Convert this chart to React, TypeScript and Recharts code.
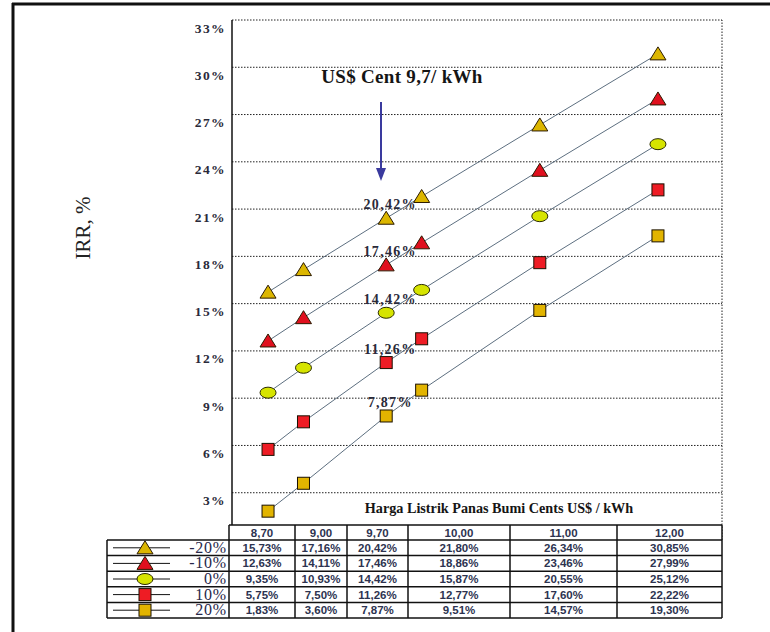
import React from 'react';
import { LineChart, Line, XAxis, YAxis, CartesianGrid, ReferenceLine, LabelList } from 'recharts';

// Data (IRR vs geothermal electricity price)
const prices = [8.7, 9.0, 9.7, 10.0, 11.0, 12.0];
const priceLabels = ['8,70', '9,00', '9,70', '10,00', '11,00', '12,00'];
const scenarioNames = ['-20%', '-10%', '0%', '10%', '20%'];
const irrMinus20 = [15.73, 17.16, 20.42, 21.8, 26.34, 30.85];
const irrMinus10 = [12.63, 14.11, 17.46, 18.86, 23.46, 27.99];
const irrBase = [9.35, 10.93, 14.42, 15.87, 20.55, 25.12];
const irrPlus10 = [5.75, 7.5, 11.26, 12.77, 17.6, 22.22];
const irrPlus20 = [1.83, 3.6, 7.87, 9.51, 14.57, 19.3];
const yTicks = [3, 6, 9, 12, 15, 18, 21, 24, 27, 30, 33];

const series = [
  { key: 'm20', values: irrMinus20, shape: 'tri', fill: '#dcb600' },
  { key: 'm10', values: irrMinus10, shape: 'tri', fill: '#e0101e' },
  { key: 'base', values: irrBase, shape: 'ell', fill: '#d6e400' },
  { key: 'p10', values: irrPlus10, shape: 'sq', fill: '#ee1c24' },
  { key: 'p20', values: irrPlus20, shape: 'sq', fill: '#e2b400' },
];

const chartData = prices.map((p, i) => {
  const row: any = { price: p };
  series.forEach((s) => { row[s.key] = s.values[i]; });
  return row;
});

const fmt = (v: number) => v.toFixed(2).replace('.', ',') + '%';

const SERIF = '"Liberation Serif", "Times New Roman", serif';
const SANS = '"Liberation Sans", Arial, sans-serif';

const Marker = ({ shape, fill, cx, cy }: any) => {
  if (shape === 'tri') {
    return <path d={`M${cx},${cy - 7} L${cx + 8},${cy + 6} L${cx - 8},${cy + 6} Z`} fill={fill} stroke="#2b1a00" strokeWidth={1} />;
  }
  if (shape === 'ell') {
    return <ellipse cx={cx} cy={cy} rx={8} ry={5.5} fill={fill} stroke="#2b2b00" strokeWidth={1} />;
  }
  return <rect x={cx - 6} y={cy - 6} width={12} height={12} fill={fill} stroke="#1a1000" strokeWidth={1} />;
};

const YTick = (props: any) => {
  const { x, y, payload } = props;
  return (
    <text x={x} y={y + 12.5} textAnchor="end" fontFamily={SERIF} fontWeight="bold" fontSize={13.5} letterSpacing={1.4} fill="#2a2a3a">
      {payload.value}%
    </text>
  );
};

// table geometry
const colEdges = [229, 295, 347, 408, 510, 617, 722];
const tableLeft = 107;
const headerTop = 525;
const rowTop = 540;
const rowH = 15.6;

const App: React.FC = () => {
  return (
    <div style={{ position: 'absolute', left: 0, top: 0, width: 770, height: 632, background: '#fff', overflow: 'hidden' }}>
      <LineChart width={770} height={632} data={chartData} margin={{ top: 20, right: 48, bottom: 92, left: 0 }}>
        <CartesianGrid horizontal vertical={false} stroke="#222" strokeDasharray="1.5 1.5" strokeWidth={1} />
        <XAxis dataKey="price" type="number" domain={[8.395, 12.542]} hide />
        <YAxis
          type="number"
          domain={[0, 33]}
          ticks={yTicks}
          width={232}
          tickLine={false}
          tickSize={0}
          tickMargin={6}
          axisLine={{ stroke: '#111', strokeWidth: 1.5 }}
          tick={<YTick />}
        />
        <ReferenceLine x={12.542} stroke="#222" strokeDasharray="1.5 1.5" />
        {series.map((s) => (
          <Line
            key={s.key}
            dataKey={s.key}
            stroke="#5d6f80"
            strokeWidth={1}
            isAnimationActive={false}
            dot={(p: any) => <Marker key={`${s.key}-${p.index}`} shape={s.shape} fill={s.fill} cx={p.cx} cy={p.cy} />}
            activeDot={false}
          >
            <LabelList
              dataKey={s.key}
              content={(p: any) =>
                p.index === 2 ? (
                  <text x={p.x + 4} y={p.y - 9} textAnchor="middle" fontFamily={SERIF} fontWeight="bold" fontSize={14} letterSpacing={1.3} fill="#2a2a3a">
                    {fmt(p.value)}
                  </text>
                ) : null
              }
            />
          </Line>
        ))}
      </LineChart>

      <svg width={770} height={632} style={{ position: 'absolute', left: 0, top: 0 }}>
        {/* frame */}
        <line x1={12} y1={4} x2={770} y2={4} stroke="#111" strokeWidth={3} />
        <line x1={13} y1={3} x2={13} y2={632} stroke="#111" strokeWidth={3} />

        {/* axis titles */}
        <text x={0} y={0} transform="translate(90,228) rotate(-90)" textAnchor="middle" fontFamily={SERIF} fontSize={21} fill="#222">
          IRR, %
        </text>
        <text x={499} y={513} textAnchor="middle" fontFamily={SERIF} fontWeight="bold" fontSize={14.2} fill="#151515">
          Harga Listrik Panas Bumi Cents US$ / kWh
        </text>

        {/* annotation */}
        <text x={402} y={83} textAnchor="middle" fontFamily={SERIF} fontWeight="bold" fontSize={19} letterSpacing={0.3} fill="#151515">
          US$ Cent 9,7/ kWh
        </text>
        <line x1={381} y1={102} x2={381} y2={170} stroke="#3a3a9e" strokeWidth={2} />
        <path d="M376,168 L386,168 L381,181 Z" fill="#3a3a9e" />

        {/* data table */}
        <rect x={colEdges[0]} y={headerTop} width={colEdges[6] - colEdges[0]} height={rowTop - headerTop} fill="#fff" />
        <rect x={tableLeft} y={rowTop} width={colEdges[6] - tableLeft} height={rowH * 5} fill="#fff" />
        <line x1={colEdges[0]} y1={headerTop} x2={colEdges[6]} y2={headerTop} stroke="#111" strokeWidth={1.5} />
        {[0, 1, 2, 3, 4, 5].map((k) => (
          <line key={`h${k}`} x1={tableLeft} y1={rowTop + k * rowH} x2={colEdges[6]} y2={rowTop + k * rowH} stroke="#111" strokeWidth={1.5} />
        ))}
        <line x1={tableLeft} y1={rowTop} x2={tableLeft} y2={rowTop + 5 * rowH} stroke="#111" strokeWidth={1.5} />
        {colEdges.map((x, k) => (
          <line key={`v${k}`} x1={x} y1={headerTop} x2={x} y2={rowTop + 5 * rowH} stroke="#111" strokeWidth={1.5} />
        ))}
        {priceLabels.map((lab, i) => (
          <text key={`pl${i}`} x={(colEdges[i] + colEdges[i + 1]) / 2} y={headerTop + 11.5} textAnchor="middle" fontFamily={SANS} fontWeight="bold" fontSize={11.5} fill="#2d3350">
            {lab}
          </text>
        ))}
        {series.map((s, r) => {
          const mid = rowTop + r * rowH + rowH / 2;
          return (
            <g key={`row${r}`}>
              <line x1={113} y1={mid} x2={170} y2={mid} stroke="#111" strokeWidth={1} />
              <Marker shape={s.shape} fill={s.fill} cx={145} cy={mid} />
              <text x={227} y={mid + 5} textAnchor="end" fontFamily={SERIF} fontSize={16} letterSpacing={0.8} fill="#27284a">
                {scenarioNames[r]}
              </text>
              {s.values.map((v, i) => (
                <text key={`c${i}`} x={(colEdges[i] + colEdges[i + 1]) / 2} y={mid + 4} textAnchor="middle" fontFamily={SANS} fontWeight="bold" fontSize={11.5} fill="#2d3350">
                  {fmt(v)}
                </text>
              ))}
            </g>
          );
        })}
      </svg>
    </div>
  );
};

export default App;
